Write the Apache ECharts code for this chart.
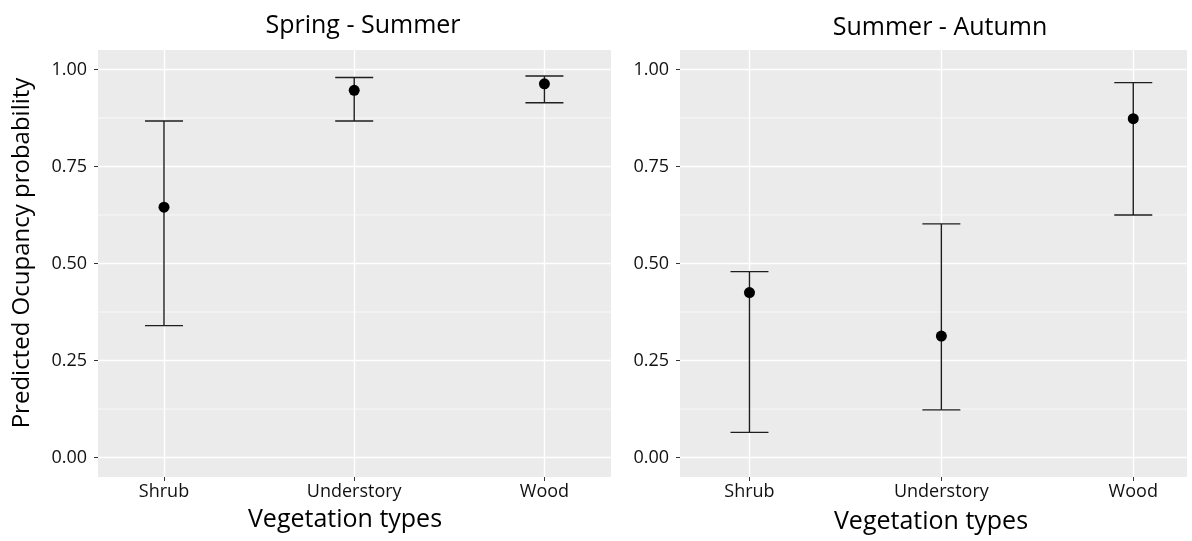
<!DOCTYPE html>
<html>
<head>
<meta charset="utf-8">
<script src="https://cdn.jsdelivr.net/npm/echarts@6/dist/echarts.min.js"></script>
<style>
  html, body { margin: 0; padding: 0; background: #ffffff; }
  #chart { width: 1192px; height: 541px; }
</style>
</head>
<body>
<div id="chart"></div>
<script>
// Categories and tick values
const vegetationTypes = ['Shrub', 'Understory', 'Wood'];
const yTicks = [0, 0.25, 0.5, 0.75, 1];
const yMinorTicks = [0.125, 0.375, 0.625, 0.875];

// Spring - Summer: predicted occupancy with lower / upper interval bounds
const springSummerMean  = [0.645, 0.946, 0.963];
const springSummerLower = [0.340, 0.867, 0.914];
const springSummerUpper = [0.867, 0.979, 0.983];

// Summer - Autumn: predicted occupancy with lower / upper interval bounds
const summerAutumnMean  = [0.425, 0.313, 0.873];
const summerAutumnLower = [0.065, 0.123, 0.625];
const summerAutumnUpper = [0.479, 0.602, 0.966];

const FONT = '"Open Sans", "DejaVu Sans", sans-serif';
const PANEL_BG = '#EBEBEB';
const categoryIdx = vegetationTypes.map((_, i) => i);

function xAxisFor(gridIndex, min, max) {
  return {
    type: 'value', gridIndex, min, max, position: 'bottom',
    axisLine: { show: false, onZero: false },
    axisTick: { show: true, length: 4, customValues: categoryIdx, lineStyle: { color: '#333', width: 1 } },
    axisLabel: {
      customValues: categoryIdx, margin: 6,
      formatter: v => vegetationTypes[Math.round(v)],
      color: '#111', fontFamily: FONT, fontSize: 18
    },
    splitLine: { show: true, lineStyle: { color: '#ffffff', width: 1.4 } }
  };
}

function yAxisFor(gridIndex) {
  return {
    type: 'value', gridIndex, min: -0.05, max: 1.05, position: 'left',
    axisLine: { show: false, onZero: false },
    axisTick: { show: true, length: 4, customValues: yTicks, lineStyle: { color: '#333', width: 1 } },
    axisLabel: {
      customValues: yTicks, margin: 11,
      formatter: v => v.toFixed(2),
      color: '#111', fontFamily: FONT, fontSize: 18
    },
    splitLine: { show: true, lineStyle: { color: '#ffffff', width: 1.4 } }
  };
}

// Thin white minor gridlines spanning the panel
function minorGridSeries(idx) {
  return {
    type: 'custom', xAxisIndex: idx, yAxisIndex: idx, z: 1, silent: true,
    data: yMinorTicks.map(v => [0, v]),
    encode: { x: 0, y: 1 },
    renderItem(params, api) {
      const cs = params.coordSys;
      const y = api.coord([0, api.value(1)])[1];
      return {
        type: 'line',
        shape: { x1: cs.x, y1: y, x2: cs.x + cs.width, y2: y },
        style: { stroke: '#ffffff', lineWidth: 0.7 }
      };
    }
  };
}

// Vertical error bars with horizontal caps
function errorBarSeries(idx, lower, upper) {
  return {
    type: 'custom', xAxisIndex: idx, yAxisIndex: idx, z: 2, silent: true,
    data: categoryIdx.map(i => [i, lower[i], upper[i]]),
    encode: { x: 0, y: [1, 2] },
    renderItem(params, api) {
      const lo = api.coord([api.value(0), api.value(1)]);
      const hi = api.coord([api.value(0), api.value(2)]);
      const half = 19;
      const style = { stroke: '#1e1e1e', lineWidth: 1.4 };
      return {
        type: 'group',
        children: [
          { type: 'line', shape: { x1: lo[0], y1: lo[1], x2: hi[0], y2: hi[1] }, style },
          { type: 'line', shape: { x1: hi[0] - half, y1: hi[1], x2: hi[0] + half, y2: hi[1] }, style },
          { type: 'line', shape: { x1: lo[0] - half, y1: lo[1], x2: lo[0] + half, y2: lo[1] }, style }
        ]
      };
    }
  };
}

function pointSeries(idx, mean) {
  return {
    type: 'scatter', xAxisIndex: idx, yAxisIndex: idx, z: 3, silent: true,
    symbol: 'circle', symbolSize: 11,
    itemStyle: { color: '#000000', opacity: 1 },
    data: categoryIdx.map(i => [i, mean[i]])
  };
}

const chart = echarts.init(document.getElementById('chart'), null, { renderer: 'canvas' });

const titleFont = '25px ' + FONT;

chart.setOption({
  animation: false,
  backgroundColor: '#ffffff',
  grid: [
    { left: 98, top: 50, width: 513, height: 427, show: true, backgroundColor: PANEL_BG, borderWidth: 0 },
    { left: 680, top: 50, width: 507, height: 427, show: true, backgroundColor: PANEL_BG, borderWidth: 0 }
  ],
  xAxis: [xAxisFor(0, -0.347, 2.35), xAxisFor(1, -0.362, 2.28)],
  yAxis: [yAxisFor(0), yAxisFor(1)],
  series: [
    minorGridSeries(0),
    errorBarSeries(0, springSummerLower, springSummerUpper),
    pointSeries(0, springSummerMean),
    minorGridSeries(1),
    errorBarSeries(1, summerAutumnLower, summerAutumnUpper),
    pointSeries(1, summerAutumnMean)
  ],
  graphic: [
    { type: 'text', x: 363, y: 26, style: { text: 'Spring - Summer', font: titleFont, fill: '#000', align: 'center', verticalAlign: 'middle' } },
    { type: 'text', x: 940, y: 28, style: { text: 'Summer - Autumn', font: titleFont, fill: '#000', align: 'center', verticalAlign: 'middle' } },
    { type: 'text', x: 345, y: 520, style: { text: 'Vegetation types', font: titleFont, fill: '#000', align: 'center', verticalAlign: 'middle' } },
    { type: 'text', x: 931, y: 522, style: { text: 'Vegetation types', font: titleFont, fill: '#000', align: 'center', verticalAlign: 'middle' } },
    { type: 'text', x: 22, y: 253, rotation: Math.PI / 2, style: { text: 'Predicted Ocupancy probability', font: '24px ' + FONT, fill: '#000', align: 'center', verticalAlign: 'middle' } }
  ]
});
</script>
</body>
</html>
